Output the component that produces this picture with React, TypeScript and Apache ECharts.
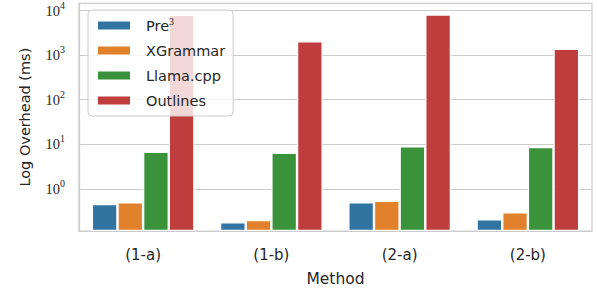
import React, { useEffect, useRef } from 'react';
import * as echarts from 'echarts';

const categories = ['(1-a)', '(1-b)', '(2-a)', '(2-b)'];
const seriesNames = ['Pre³', 'XGrammar', 'Llama.cpp', 'Outlines'];
const pre3 = [0.46, 0.18, 0.5, 0.21];
const xgrammar = [0.5, 0.2, 0.54, 0.3];
const llamacpp = [6.85, 6.5, 9.0, 8.7];
const outlines = [7980, 2050, 8150, 1380];
const colors = ['#3274a1', '#e1812c', '#3a923a', '#c03d3e'];
const yMin = 0.1143;
const yMax = 14520;

const TEXT = '#262626';
const GRID = '#cccccc';
const SANS = 'DejaVu Sans';
const SERIF = 'Liberation Serif';

export default function App() {
  const ref = useRef<HTMLDivElement>(null);
  useEffect(() => {
    if (!ref.current) return;
    const chart = echarts.init(ref.current, null, { renderer: 'svg' });
    const values = [pre3, xgrammar, llamacpp, outlines];
    chart.setOption({
      animation: false,
      grid: {
        left: 79,
        right: 5,
        top: 1,
        bottom: 62,
        show: true,
        borderColor: GRID,
        borderWidth: 1.2,
        backgroundColor: 'transparent',
      },
      legend: {
        orient: 'vertical',
        left: 88,
        top: 10,
        itemWidth: 34,
        itemHeight: 10,
        itemGap: 10,
        padding: [6, 8, 8, 8],
        backgroundColor: 'rgba(255,255,255,0.8)',
        borderColor: GRID,
        borderWidth: 1,
        borderRadius: 4,
        icon: 'rect',
        data: seriesNames,
        formatter: (name: string) => (name === 'Pre³' ? 'Pre{s|3}' : name),
        textStyle: {
          fontSize: 14.5,
          color: TEXT,
          fontFamily: SANS,
          padding: [0, 0, 0, 10],
          rich: {
            s: { fontSize: 10, fontFamily: SERIF, color: TEXT, padding: [0, 0, 9, 0] },
          },
        },
      },
      xAxis: {
        type: 'category',
        data: categories,
        name: 'Method',
        nameLocation: 'middle',
        nameGap: 40,
        nameTextStyle: { fontSize: 15.5, color: TEXT, fontFamily: SANS },
        axisLine: { show: true, lineStyle: { color: GRID, width: 1.2 } },
        axisTick: { show: false },
        axisLabel: { fontSize: 15, color: TEXT, fontFamily: SANS, margin: 16 },
        splitLine: { show: false },
      },
      yAxis: {
        type: 'log',
        logBase: 10,
        min: yMin,
        max: yMax,
        startValue: yMin,
        name: 'Log Overhead (ms)',
        nameLocation: 'middle',
        nameGap: 47,
        nameTextStyle: { fontSize: 14.5, color: TEXT, fontFamily: SANS },
        axisLine: { show: true, lineStyle: { color: GRID, width: 1.2 } },
        axisTick: { show: false },
        splitLine: { show: true, lineStyle: { color: GRID, width: 1.2 } },
        minorSplitLine: { show: false },
        axisLabel: {
          margin: 14,
          color: TEXT,
          formatter: (v: number) => {
            const e = Math.log10(v);
            const r = Math.round(e);
            if (Math.abs(e - r) > 1e-6) return '';
            return `{b|10}{s|${r}}`;
          },
          rich: {
            b: { fontSize: 14.5, fontFamily: SERIF, color: TEXT },
            s: { fontSize: 10, fontFamily: SERIF, color: TEXT, padding: [0, 0, 11, 0] },
          },
        },
      },
      series: seriesNames.map((name, i) => ({
        name,
        type: 'bar',
        data: values[i],
        barGap: '0%',
        barCategoryGap: '20%',
        itemStyle: { color: colors[i], borderColor: '#ffffff', borderWidth: 1.2 },
      })),
    });
    return () => chart.dispose();
  }, []);
  return (
    <div
      ref={ref}
      style={{ position: 'absolute', left: 0, top: 0, width: 597, height: 293 }}
    />
  );
}
